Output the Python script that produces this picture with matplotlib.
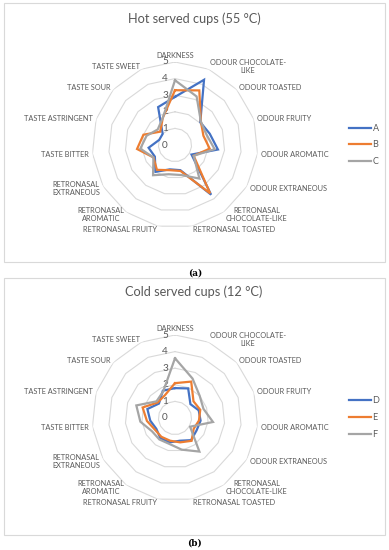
import numpy as np
import matplotlib
matplotlib.use("Agg")
import matplotlib.pyplot as plt
from matplotlib.patches import Rectangle
import matplotlib.transforms as mtransforms

plt.rcParams['font.family'] = ['Lato', 'DejaVu Sans']

categories = ["DARKNESS", "ODOUR CHOCOLATE-\nLIKE", "ODOUR TOASTED", "ODOUR FRUITY",
              "ODOUR AROMATIC", "ODOUR EXTRANEOUS", "RETRONASAL\nCHOCOLATE-LIKE",
              "RETRONASAL TOASTED", "RETRONASAL FRUITY", "RETRONASAL\nAROMATIC",
              "RETRONASAL\nEXTRANEOUS", "TASTE BITTER", "TASTE ASTRINGENT",
              "TASTE SOUR", "TASTE SWEET"]

hot_names = ["A", "B", "C"]
hot_A = [2.9, 4.3, 2.05, 2.2, 2.6, 1.15, 3.7, 1.55, 1.5, 2.0, 1.4, 1.6, 1.0, 1.0, 2.5]
hot_B = [3.3, 3.6, 2.1, 1.8, 2.1, 1.3, 3.6, 1.6, 1.55, 1.85, 1.5, 2.3, 2.0, 1.2, 1.8]
hot_C = [3.9, 3.2, 2.1, 2.0, 2.4, 1.3, 2.5, 1.85, 1.8, 2.25, 1.5, 2.1, 1.8, 1.4, 1.8]

cold_names = ["D", "E", "F"]
cold_D = [1.8, 1.95, 1.25, 1.5, 1.55, 1.5, 1.65, 1.4, 1.5, 1.5, 1.3, 1.5, 1.75, 1.3, 1.8]
cold_E = [2.1, 2.4, 1.5, 1.6, 1.45, 1.3, 1.7, 1.5, 1.4, 1.4, 1.4, 1.7, 2.05, 1.4, 1.5]
cold_F = [3.6, 2.6, 2.0, 1.8, 2.3, 1.05, 2.5, 1.95, 1.6, 1.6, 1.6, 2.1, 2.45, 1.5, 1.75]

ticks = [0, 1, 2, 3, 4, 5]
titles = ["Hot served cups (55 °C)", "Cold served cups (12 °C)"]
panel_tags = ["(a)", "(b)"]

colors = ["#4472C4", "#ED7D31", "#A5A5A5"]
text_col = "#595959"
grid_col = "#D9D9D9"

W, H = 389, 550
fig = plt.figure(figsize=(W / 100, H / 100), dpi=100)

def fx(x):
    return x / W

def fy(y):
    return 1 - y / H

R = 83.0  # px radius of ring 5
n = len(categories)
theta = np.arange(n) * 2 * np.pi / n
theta_c = np.append(theta, theta[0])

def draw_panel(y0, series, names, title, tag, box_top, box_bot, tag_y, title_y, leg_y):
    cx, cy = 175, y0
    fig.patches.append(Rectangle((fx(4), fy(box_bot)), fx(385) - fx(4), fy(box_top) - fy(box_bot),
                                 transform=fig.transFigure, fill=False, edgecolor=grid_col, lw=0.8))
    fig.text(fx(194), fy(title_y), title, ha='center', va='center', fontsize=9.2, color=text_col)
    fig.text(fx(195), fy(tag_y), tag, ha='center', va='center', fontsize=6.5,
             family='DejaVu Serif', weight='bold', color='black')
    ax = fig.add_axes([fx(cx - R), fy(cy + R), (2 * R) / W, (2 * R) / H], projection='polar')
    ax.set_theta_zero_location('N')
    ax.set_theta_direction(-1)
    ax.set_ylim(0, 5)
    ax.grid(False)
    ax.set_xticks([])
    ax.set_yticks([])
    ax.spines['polar'].set_visible(False)
    ax.patch.set_visible(False)
    for r in ticks[1:]:
        ax.plot(theta_c, [r] * (n + 1), color=grid_col, lw=0.8, zorder=1)
    off = mtransforms.offset_copy(ax.transData, fig=fig, x=-10, y=0, units='dots')
    for r in ticks:
        ax.text(0, r, str(r), transform=off, ha='center', va='center', fontsize=7.2, color=text_col)
    handles = []
    for vals, c, nm in zip(series, colors, names):
        v = np.append(vals, vals[0])
        ln, = ax.plot(theta_c, v, color=c, lw=1.6, zorder=3, label=nm, solid_joinstyle='miter')
        handles.append(ln)
    lab_off = 5.2
    for t, lab in zip(theta, categories):
        s = np.sin(t)
        if s > 0.01:
            ha = 'left'
        elif s < -0.01:
            ha = 'right'
        else:
            ha = 'center'
        va = 'bottom' if abs(s) < 0.01 else 'center'
        ax.text(t, lab_off, lab, ha=ha, va=va, fontsize=5.3, color=text_col,
                multialignment='center', linespacing=1.15)
    ax.legend(handles=handles, loc='center left', bbox_to_anchor=(fx(349), fy(leg_y)),
              bbox_transform=fig.transFigure, frameon=False, fontsize=6.5,
              handlelength=2.4, handletextpad=0.2, labelspacing=0.85,
              borderpad=0, borderaxespad=0, labelcolor=text_col)

draw_panel(145, [hot_A, hot_B, hot_C], hot_names, titles[0], panel_tags[0],
           3, 262, 273, 19, 145)
draw_panel(418, [cold_D, cold_E, cold_F], cold_names, titles[1], panel_tags[1],
           278, 535, 543, 292, 417.5)

fig.savefig("out.png", dpi=100)
